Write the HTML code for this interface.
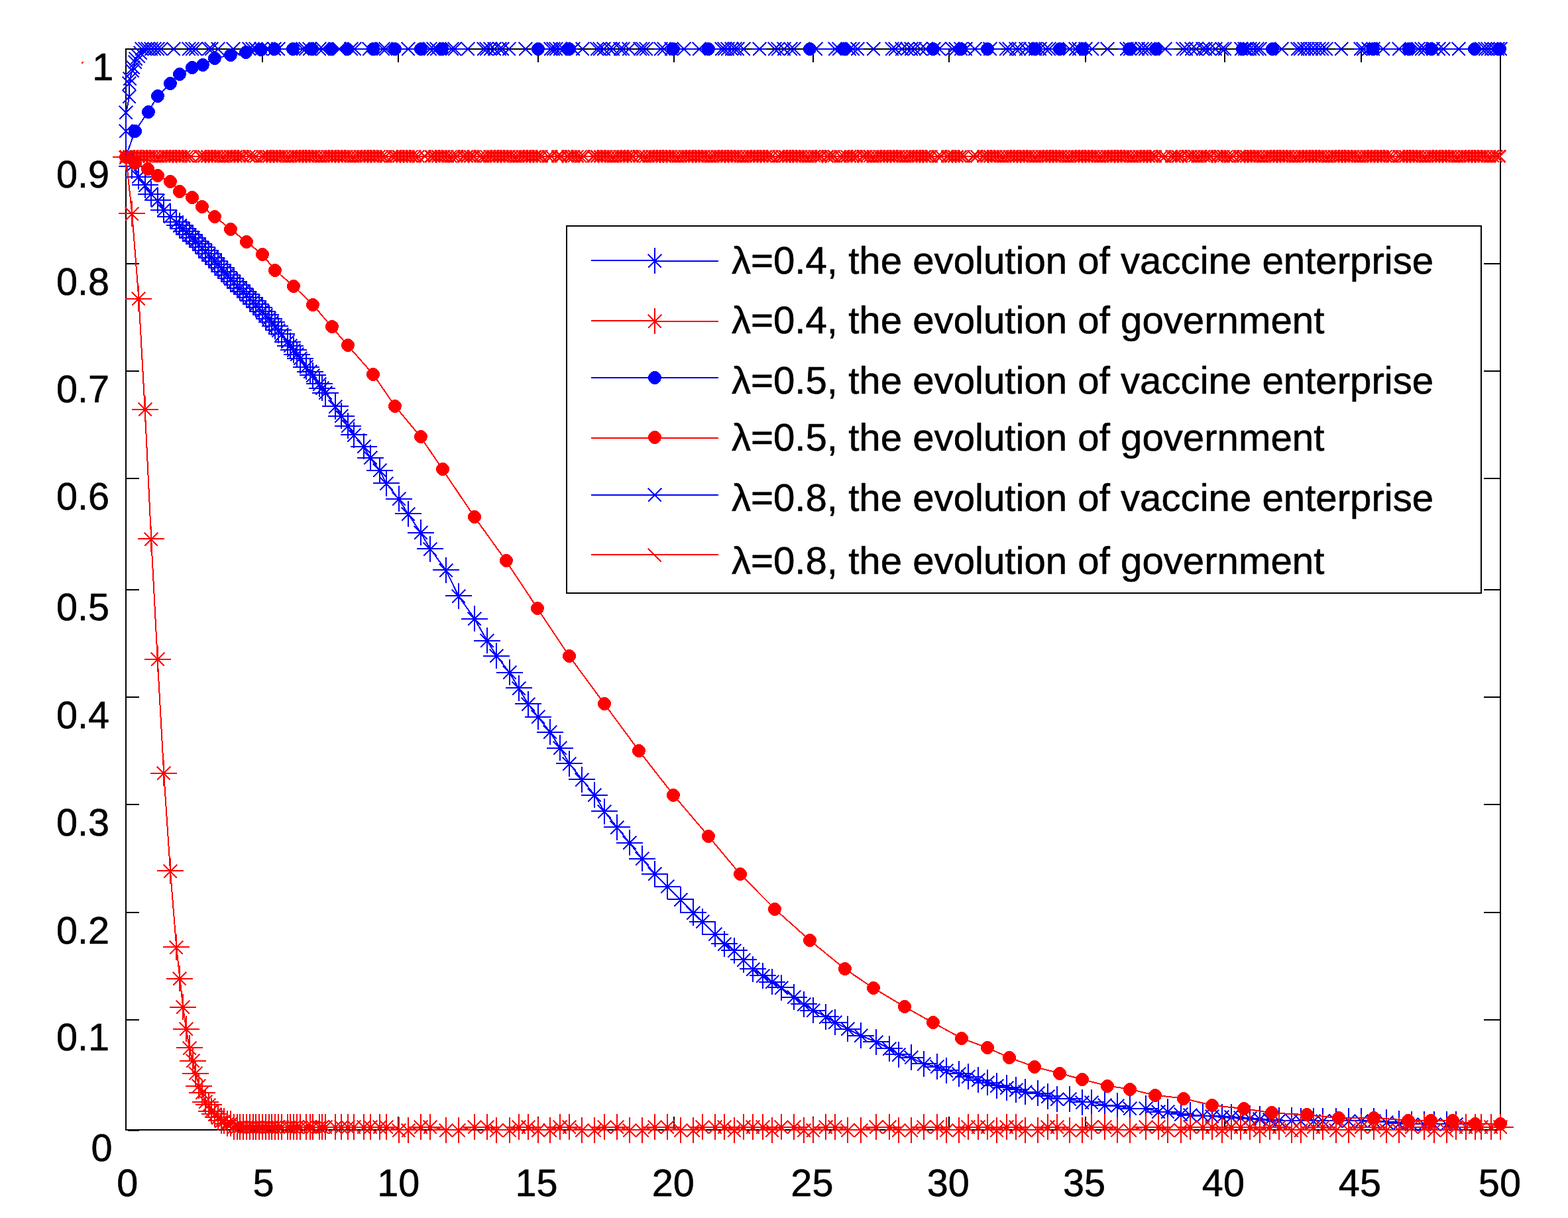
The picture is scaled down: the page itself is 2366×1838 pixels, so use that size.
<!DOCTYPE html>
<html lang="en"><head><meta charset="utf-8"><title>Evolution of vaccine enterprise and government</title>
<style>html,body{margin:0;padding:0;background:#fff}svg{display:block}text{font-family:"Liberation Sans",sans-serif;fill:#000;stroke:#000;stroke-width:.6px;stroke-linejoin:round}.t{font-size:57.6px}.l{font-size:58.2px}.b{stroke:#00f;fill:none}.r{stroke:#f00;fill:none}.k{stroke:#000;fill:none}</style></head><body>
<svg shape-rendering="crispEdges" width="2366" height="1838" viewBox="0 0 2366 1838">
<rect width="2366" height="1838" fill="#fff"/>
<path class="k" stroke-width="2" d="M190 74H2264V1705H190ZM396 74v20 M396 1705v-20M601 74v20 M601 1705v-20M812 74v20 M812 1705v-20M1017 74v20 M1017 1705v-20M1227 74v20 M1227 1705v-20M1432 74v20 M1432 1705v-20M1638 74v20 M1638 1705v-20M1848 74v20 M1848 1705v-20M2054 74v20 M2054 1705v-20M190 236h20 M2264 236h-25M190 398h20 M2264 398h-25M190 560h20 M2264 560h-25M190 722h20 M2264 722h-25M190 890h20 M2264 890h-25M190 1052h20 M2264 1052h-25M190 1214h20 M2264 1214h-25M190 1377h20 M2264 1377h-25M190 1539h20 M2264 1539h-25M193 1706h17"/>
<g class="t" text-anchor="middle">
<text x="192.2" y="1805">0</text>
<text x="397.4" y="1805">5</text>
<text x="601.3" y="1805">10</text>
<text x="809.6" y="1805">15</text>
<text x="1015.7" y="1805">20</text>
<text x="1225.4" y="1805">25</text>
<text x="1430.8" y="1805">30</text>
<text x="1636" y="1805">35</text>
<text x="1845.9" y="1805">40</text>
<text x="2051.9" y="1805">45</text>
<text x="2262.9" y="1805">50</text>
</g>
<g class="t" text-anchor="end">
<text x="171.3" y="120.5">1</text>
<text x="165" y="282.8">0.9</text>
<text x="165" y="444.7">0.8</text>
<text x="165" y="606.9">0.7</text>
<text x="165" y="768.5">0.6</text>
<text x="165" y="936">0.5</text>
<text x="165" y="1098.6">0.4</text>
<text x="165" y="1260.8">0.3</text>
<text x="165" y="1423.8">0.2</text>
<text x="165" y="1585.1">0.1</text>
<text x="169.5" y="1751.5">0</text>
</g>
<path d="M123.6 95.3l1.6-1.2" stroke="#f00" stroke-width="2.2" stroke-linecap="round"/>
<g stroke-width="2">
<path class="b" stroke-width="2" d="M190 237 L199.2 250.6 L209.4 266.7 L218.7 279.3 L228.2 292.8 L237.7 302.3 L247.2 316.9 L257 326.7 L266.2 335.2 L271.4 340.2 L276.2 344.8 L281 349.4 L285.8 354.1 L290.6 358.8 L295.3 363.6 L300.1 368.5 L304.9 373.4 L309.7 378.4 L314.5 383.5 L319.3 388.6 L324.1 393.7 L328.9 398.9 L333.7 404.2 L338.5 409.5 L343.2 414.9 L348 420.1 L352.8 425.3 L357.6 430.2 L362.4 435 L367.2 439.7 L372 444.4 L376.8 449.3 L381.6 454.3 L386.4 459.3 L391.1 464.4 L395.9 469.6 L400.7 475.1 L405.5 480.7 L410.3 486.4 L415.1 492.2 L419.9 498.2 L424.7 504.3 L433.5 515.6 L438.4 522 L443.2 528.3 L448 534.6 L452.8 540.9 L462.4 553.6 L467.9 560.9 L472 566.4 L481.6 579.4 L486.4 586 L491.2 592.6 L505.7 613.3 L515.3 627.7 L524.9 642.7 L533.8 656.1 L548.9 673.9 L558.5 690.8 L573 709.9 L582.6 729.1 L601.5 752.9 L615.6 775.3 L634.8 803.9 L649.2 828.3 L672.9 860.3 L691.9 899.5 L716 933.6 L734.8 966.5 L749.2 989.7 L768.5 1014.5 L782.5 1038.2 L796.9 1062.3 L811.7 1081.8 L830 1104.6 L845 1128.8 L859.2 1152.3 L878.1 1176.4 L897.3 1199.8 L911.7 1224.2 L931 1248.3 L949.6 1271.7 L968.8 1295.8 L988.1 1318.8 L1006.9 1337.6 L1026.7 1357.4 L1046 1377.2 L1059.8 1390.9 L1078.7 1409.8 L1092.9 1424.1 L1107.9 1434.4 L1121.7 1448.4 L1135.8 1462.4 L1150.8 1472 L1164.6 1481.6 L1179 1490.4 L1197.9 1505 L1212.7 1515 L1227.1 1524.7 L1245.8 1534 L1259.8 1542.9 L1279.4 1552.7 L1298.8 1562.9 L1322.3 1572.2 L1341.9 1582.4 L1356 1591.2 L1374.8 1595.9 L1393.8 1605.2 L1413.7 1610 L1427.7 1615.1 L1446.7 1620.2 L1460.8 1624.9 L1475.6 1629.6 L1489.6 1634 L1504 1638 L1518.5 1641.1 L1532.5 1644 L1546.7 1647.7 L1565.6 1649.6 L1580.6 1654.4 L1594.8 1658.3 L1613.7 1658.3 L1632.9 1663 L1646.9 1663 L1666.5 1667.9 L1685.8 1668.8 L1705 1672.7 L1728.5 1672.7 L1747.7 1677.5 L1761.7 1677.5 L1781.5 1681.4 L1795.6 1682.6 L1814.6 1683.8 L1829 1684.5 L1843.8 1685.2 L1857.9 1685.9 L1872.3 1686.8 L1886.3 1687.8 L1900.8 1688.9 L1915.6 1689.8 L1929.6 1690.6 L1948.8 1691 L1962.7 1691 L1981.5 1691 L1996.3 1691 L2015.6 1691 L2034.8 1691 L2054 1691 L2072.7 1691.8 L2091.7 1693.5 L2110.8 1695.2 L2130 1696 L2149.4 1696 L2163.7 1696 L2182.8 1696 L2197 1696"/>
<path class="b" d="M179 251h40 M199 231v39M189 267h40 M209 247v39M199 279h40 M219 260v39M208 293h40 M228 273v39M218 302h40 M238 283v39M227 317h40 M247 297v39M237 327h40 M257 307v39M246 335h40 M266 316v39M251 340h40 M271 321v39M256 345h40 M276 325v39M261 349h40 M281 330v39M266 354h40 M286 335v39M271 359h40 M291 339v39M275 364h40 M295 344v39M280 368h40 M300 349v39M285 373h40 M305 354v39M290 378h40 M310 359v39M295 383h40 M315 364v39M299 389h40 M319 369v39M304 394h40 M324 374v39M309 399h40 M329 379v39M314 404h40 M334 385v39M318 410h40 M338 390v39M323 415h40 M343 395v39M328 420h40 M348 401v39M333 425h40 M353 406v39M338 430h40 M358 411v39M342 435h40 M362 415v39M347 440h40 M367 420v39M352 444h40 M372 425v39M357 449h40 M377 430v39M362 454h40 M382 435v39M366 459h40 M386 440v39M371 464h40 M391 445v39M376 470h40 M396 450v39M381 475h40 M401 456v39M386 481h40 M406 461v39M390 486h40 M410 467v39M395 492h40 M415 473v39M400 498h40 M420 479v39M405 504h40 M425 485v39M414 516h40 M434 496v39M418 522h40 M438 502v39M423 528h40 M443 509v39M428 535h40 M448 515v39M433 541h40 M453 521v39M442 554h40 M462 534v39M448 561h40 M468 541v39M452 566h40 M472 547v39M462 579h40 M482 560v39M466 586h40 M486 566v39M471 593h40 M491 573v39M486 613h40 M506 594v39M495 628h40 M515 608v39M505 643h40 M525 623v39M514 656h40 M534 637v39M529 674h40 M549 654v39M539 691h40 M559 671v39M553 710h40 M573 690v39M563 729h40 M583 710v39M582 753h40 M602 733v39M596 775h40 M616 756v39M615 804h40 M635 784v39M629 828h40 M649 809v39M653 860h40 M673 841v39M672 899h40 M692 880v39M696 934h40 M716 914v39M715 967h40 M735 947v39M729 990h40 M749 970v39M749 1015h40 M769 995v39M763 1038h40 M783 1019v39M777 1062h40 M797 1043v39M792 1082h40 M812 1062v39M810 1105h40 M830 1085v39M825 1129h40 M845 1109v39M839 1152h40 M859 1133v39M858 1176h40 M878 1157v39M877 1200h40 M897 1180v39M892 1224h40 M912 1205v39M911 1248h40 M931 1229v39M930 1272h40 M950 1252v39M949 1296h40 M969 1276v39M968 1319h40 M988 1299v39M987 1338h40 M1007 1318v39M1007 1357h40 M1027 1338v39M1026 1377h40 M1046 1358v39M1040 1391h40 M1060 1371v39M1059 1410h40 M1079 1390v39M1073 1424h40 M1093 1405v39M1088 1434h40 M1108 1415v39M1102 1448h40 M1122 1429v39M1116 1462h40 M1136 1443v39M1131 1472h40 M1151 1453v39M1145 1482h40 M1165 1462v39M1159 1490h40 M1179 1471v39M1178 1505h40 M1198 1485v39M1193 1515h40 M1213 1496v39M1207 1525h40 M1227 1505v39M1226 1534h40 M1246 1515v39M1240 1543h40 M1260 1523v39M1259 1553h40 M1279 1533v39M1279 1563h40 M1299 1543v39M1302 1572h40 M1322 1553v39M1322 1582h40 M1342 1563v39M1336 1591h40 M1356 1572v39M1355 1596h40 M1375 1576v39M1374 1605h40 M1394 1586v39M1394 1610h40 M1414 1590v39M1408 1615h40 M1428 1596v39M1427 1620h40 M1447 1601v39M1441 1625h40 M1461 1605v39M1456 1630h40 M1476 1610v39M1470 1634h40 M1490 1614v39M1484 1638h40 M1504 1619v39M1499 1641h40 M1519 1622v39M1513 1644h40 M1533 1625v39M1527 1648h40 M1547 1628v39M1546 1650h40 M1566 1630v39M1561 1654h40 M1581 1635v39M1575 1658h40 M1595 1639v39M1594 1658h40 M1614 1639v39M1613 1663h40 M1633 1644v39M1627 1663h40 M1647 1644v39M1647 1668h40 M1667 1648v39M1666 1669h40 M1686 1649v39M1685 1673h40 M1705 1653v39M1709 1673h40 M1729 1653v39M1728 1678h40 M1748 1658v39M1742 1678h40 M1762 1658v39M1762 1681h40 M1782 1662v39M1776 1683h40 M1796 1663v39M1795 1684h40 M1815 1664v39M1809 1684h40 M1829 1665v39M1824 1685h40 M1844 1666v39M1838 1686h40 M1858 1666v39M1852 1687h40 M1872 1667v39M1866 1688h40 M1886 1668v39M1881 1689h40 M1901 1669v39M1896 1690h40 M1916 1670v39M1910 1691h40 M1930 1671v39M1929 1691h40 M1949 1671v39M1943 1691h40 M1963 1672v39M1962 1691h40 M1982 1672v39M1976 1691h40 M1996 1672v39M1996 1691h40 M2016 1672v39M2015 1691h40 M2035 1672v39M2034 1691h40 M2054 1672v39M2053 1692h40 M2073 1672v39M2072 1693h40 M2092 1674v39M2091 1695h40 M2111 1676v39M2110 1696h40 M2130 1677v39M2129 1696h40 M2149 1677v39M2144 1696h40 M2164 1677v39M2163 1696h40 M2183 1677v39M2177 1696h40 M2197 1677v39"/>
<path class="b" stroke-width="2" d="M189 241l20 20 M189 261l20 -20M199 257l20 20 M199 277l20 -20M209 270l20 20 M209 290l20 -20M218 283l20 20 M218 303l20 -20M228 293l20 20 M228 313l20 -20M237 307l20 20 M237 327l20 -20M247 317l20 20 M247 337l20 -20M256 326l20 20 M256 346l20 -20M261 331l20 20 M261 351l20 -20M266 335l20 20 M266 355l20 -20M271 340l20 20 M271 360l20 -20M276 345l20 20 M276 365l20 -20M281 349l20 20 M281 369l20 -20M285 354l20 20 M285 374l20 -20M290 359l20 20 M290 379l20 -20M295 364l20 20 M295 384l20 -20M300 369l20 20 M300 389l20 -20M305 374l20 20 M305 394l20 -20M309 379l20 20 M309 399l20 -20M314 384l20 20 M314 404l20 -20M319 389l20 20 M319 409l20 -20M324 395l20 20 M324 415l20 -20M328 400l20 20 M328 420l20 -20M333 405l20 20 M333 425l20 -20M338 411l20 20 M338 431l20 -20M343 416l20 20 M343 436l20 -20M348 421l20 20 M348 441l20 -20M352 425l20 20 M352 445l20 -20M357 430l20 20 M357 450l20 -20M362 435l20 20 M362 455l20 -20M367 440l20 20 M367 460l20 -20M372 445l20 20 M372 465l20 -20M376 450l20 20 M376 470l20 -20M381 455l20 20 M381 475l20 -20M386 460l20 20 M386 480l20 -20M391 466l20 20 M391 486l20 -20M396 471l20 20 M396 491l20 -20M400 477l20 20 M400 497l20 -20M405 483l20 20 M405 503l20 -20M410 489l20 20 M410 509l20 -20M415 495l20 20 M415 515l20 -20M424 506l20 20 M424 526l20 -20M428 512l20 20 M428 532l20 -20M433 519l20 20 M433 539l20 -20M438 525l20 20 M438 545l20 -20M443 531l20 20 M443 551l20 -20M452 544l20 20 M452 564l20 -20M458 551l20 20 M458 571l20 -20M462 557l20 20 M462 577l20 -20M472 570l20 20 M472 590l20 -20M476 576l20 20 M476 596l20 -20M481 583l20 20 M481 603l20 -20M496 604l20 20 M496 624l20 -20M505 618l20 20 M505 638l20 -20M515 633l20 20 M515 653l20 -20M524 647l20 20 M524 667l20 -20M539 664l20 20 M539 684l20 -20M549 681l20 20 M549 701l20 -20M563 700l20 20 M563 720l20 -20M573 720l20 20 M573 740l20 -20M592 743l20 20 M592 763l20 -20M606 766l20 20 M606 786l20 -20M625 794l20 20 M625 814l20 -20M639 819l20 20 M639 839l20 -20M663 851l20 20 M663 871l20 -20M682 890l20 20 M682 910l20 -20M706 924l20 20 M706 944l20 -20M725 957l20 20 M725 977l20 -20M739 980l20 20 M739 1000l20 -20M759 1005l20 20 M759 1025l20 -20M773 1029l20 20 M773 1049l20 -20M787 1053l20 20 M787 1073l20 -20M802 1072l20 20 M802 1092l20 -20M820 1095l20 20 M820 1115l20 -20M835 1119l20 20 M835 1139l20 -20M849 1143l20 20 M849 1163l20 -20M868 1167l20 20 M868 1187l20 -20M887 1190l20 20 M887 1210l20 -20M902 1215l20 20 M902 1235l20 -20M921 1239l20 20 M921 1259l20 -20M940 1262l20 20 M940 1282l20 -20M959 1286l20 20 M959 1306l20 -20M978 1309l20 20 M978 1329l20 -20M997 1328l20 20 M997 1348l20 -20M1017 1348l20 20 M1017 1368l20 -20M1036 1368l20 20 M1036 1388l20 -20M1050 1381l20 20 M1050 1401l20 -20M1069 1400l20 20 M1069 1420l20 -20M1083 1415l20 20 M1083 1435l20 -20M1098 1425l20 20 M1098 1445l20 -20M1112 1439l20 20 M1112 1459l20 -20M1126 1453l20 20 M1126 1473l20 -20M1141 1463l20 20 M1141 1483l20 -20M1155 1472l20 20 M1155 1492l20 -20M1169 1481l20 20 M1169 1501l20 -20M1188 1495l20 20 M1188 1515l20 -20M1203 1506l20 20 M1203 1526l20 -20M1217 1515l20 20 M1217 1535l20 -20M1236 1525l20 20 M1236 1545l20 -20M1250 1533l20 20 M1250 1553l20 -20M1269 1543l20 20 M1269 1563l20 -20M1289 1553l20 20 M1289 1573l20 -20M1312 1563l20 20 M1312 1583l20 -20M1332 1573l20 20 M1332 1593l20 -20M1346 1582l20 20 M1346 1602l20 -20M1365 1586l20 20 M1365 1606l20 -20M1384 1596l20 20 M1384 1616l20 -20M1404 1600l20 20 M1404 1620l20 -20M1418 1606l20 20 M1418 1626l20 -20M1437 1611l20 20 M1437 1631l20 -20M1451 1615l20 20 M1451 1635l20 -20M1466 1620l20 20 M1466 1640l20 -20M1480 1624l20 20 M1480 1644l20 -20M1494 1629l20 20 M1494 1649l20 -20M1509 1632l20 20 M1509 1652l20 -20M1523 1635l20 20 M1523 1655l20 -20M1537 1638l20 20 M1537 1658l20 -20M1556 1640l20 20 M1556 1660l20 -20M1571 1645l20 20 M1571 1665l20 -20M1585 1649l20 20 M1585 1669l20 -20M1604 1649l20 20 M1604 1669l20 -20M1623 1654l20 20 M1623 1674l20 -20M1637 1654l20 20 M1637 1674l20 -20M1657 1658l20 20 M1657 1678l20 -20M1676 1659l20 20 M1676 1679l20 -20M1695 1663l20 20 M1695 1683l20 -20M1719 1663l20 20 M1719 1683l20 -20M1738 1668l20 20 M1738 1688l20 -20M1752 1668l20 20 M1752 1688l20 -20M1772 1672l20 20 M1772 1692l20 -20M1786 1673l20 20 M1786 1693l20 -20M1805 1674l20 20 M1805 1694l20 -20M1819 1675l20 20 M1819 1695l20 -20M1834 1676l20 20 M1834 1696l20 -20M1848 1676l20 20 M1848 1696l20 -20M1862 1677l20 20 M1862 1697l20 -20M1876 1678l20 20 M1876 1698l20 -20M1891 1679l20 20 M1891 1699l20 -20M1906 1680l20 20 M1906 1700l20 -20M1920 1681l20 20 M1920 1701l20 -20M1939 1681l20 20 M1939 1701l20 -20M1953 1682l20 20 M1953 1702l20 -20M1972 1682l20 20 M1972 1702l20 -20M1986 1682l20 20 M1986 1702l20 -20M2006 1682l20 20 M2006 1702l20 -20M2025 1682l20 20 M2025 1702l20 -20M2044 1682l20 20 M2044 1702l20 -20M2063 1682l20 20 M2063 1702l20 -20M2082 1684l20 20 M2082 1704l20 -20M2101 1686l20 20 M2101 1706l20 -20M2120 1687l20 20 M2120 1707l20 -20M2139 1687l20 20 M2139 1707l20 -20M2154 1687l20 20 M2154 1707l20 -20M2173 1687l20 20 M2173 1707l20 -20M2187 1687l20 20 M2187 1707l20 -20"/>
<path class="r" stroke-width="2" d="M190 237 L199.2 322.3 L209.4 450.5 L218.7 617.6 L228.2 813.4 L237.7 994.5 L247.2 1166.7 L257 1314.4 L266.2 1429 L271.4 1476.6 L276.2 1519.7 L281 1552.8 L285.8 1581.4 L290.6 1600.9 L295.3 1619.7 L300.1 1638.6 L304.9 1648.8 L309.7 1662.5 L314.5 1667.1 L319.3 1676.7 L324.1 1681.5 L328.9 1686.3 L333.7 1691.1 L338.5 1691.1 L343.2 1695.9 L348 1695.9 L352.8 1700.7 L357.6 1700.7 L362.4 1700.7 L367.2 1700.7 L372 1700.7 L376.8 1700.7 L381.6 1700.7 L386.4 1700.7 L391.1 1700.7 L395.9 1700.7 L400.7 1700.7 L405.5 1700.7 L410.3 1700.7 L415.1 1700.7 L419.9 1700.7 L424.7 1700.7 L433.5 1700.7 L438.4 1700.7 L443.2 1700.7 L448 1700.7 L452.8 1700.7 L462.4 1700.7 L467.9 1700.7 L472 1700.7 L481.6 1700.7 L486.4 1700.7 L491.2 1700.7 L505.7 1700.7 L515.3 1700.7 L524.9 1700.7 L533.8 1700.7 L548.9 1700.7 L558.5 1700.7 L573 1700.7 L582.6 1700.7 L601.5 1705.2 L615.6 1705.2 L634.8 1700.6 L649.2 1700.6 L672.9 1705.2 L691.9 1705.2 L716 1700.6 L734.8 1700.6 L749.2 1705.2 L768.5 1705.2 L782.5 1700.6 L796.9 1700.6 L811.7 1705.2 L830 1705.2 L845 1700.6 L859.2 1700.6 L878.1 1705.2 L897.3 1705.2 L911.7 1700.6 L931 1700.6 L949.6 1705.2 L968.8 1705.2 L988.1 1700.6 L1006.9 1700.6 L1026.7 1705.2 L1046 1705.2 L1059.8 1700.6 L1078.7 1700.6 L1092.9 1700.6 L1107.9 1705.2 L1121.7 1700.6 L1135.8 1700.6 L1150.8 1700.6 L1164.6 1705.2 L1179 1700.6 L1197.9 1700.6 L1212.7 1705.2 L1227.1 1705.2 L1245.8 1700.6 L1259.8 1700.6 L1279.4 1705.2 L1298.8 1705.2 L1322.3 1700.6 L1341.9 1700.6 L1356 1705.2 L1374.8 1705.2 L1393.8 1700.6 L1413.7 1700.6 L1427.7 1705.2 L1446.7 1705.2 L1460.8 1700.6 L1475.6 1700.6 L1489.6 1700.6 L1504 1705.2 L1518.5 1700.6 L1532.5 1700.6 L1546.7 1705.2 L1565.6 1705.2 L1580.6 1700.6 L1594.8 1700.6 L1613.7 1705.2 L1632.9 1705.2 L1646.9 1700.6 L1666.5 1700.6 L1685.8 1705.2 L1705 1705.2 L1728.5 1700.6 L1747.7 1700.6 L1761.7 1705.2 L1781.5 1705.2 L1795.6 1700.6 L1814.6 1700.6 L1829 1700.6 L1843.8 1705.2 L1857.9 1700.6 L1872.3 1700.6 L1886.3 1700.6 L1900.8 1705.2 L1915.6 1700.6 L1929.6 1700.6 L1948.8 1705.2 L1962.7 1705.2 L1981.5 1700.6 L1996.3 1700.6 L2015.6 1705.2 L2034.8 1705.2 L2054 1700.6 L2072.7 1700.6 L2091.7 1705.2 L2110.8 1705.2 L2130 1700.6 L2149.4 1700.6 L2163.7 1705.2 L2182.8 1705.2 L2197 1700.6 L2211.5 1700.6 L2225.5 1700.6 L2234.9 1700.6 L2249.6 1700.6 L2264 1700.6"/>
<path class="r" d="M170 237h40 M190 218v39M179 322h40 M199 303v39M189 451h40 M209 431v39M199 618h40 M219 598v39M208 813h40 M228 794v39M218 995h40 M238 975v39M227 1167h40 M247 1147v39M237 1314h40 M257 1295v39M246 1429h40 M266 1410v39M251 1477h40 M271 1457v39M256 1520h40 M276 1500v39M261 1553h40 M281 1533v39M266 1581h40 M286 1562v39M271 1601h40 M291 1581v39M275 1620h40 M295 1600v39M280 1639h40 M300 1619v39M285 1649h40 M305 1629v39M290 1663h40 M310 1643v39M295 1667h40 M315 1648v39M299 1677h40 M319 1657v39M304 1681h40 M324 1662v39M309 1686h40 M329 1667v39M314 1691h40 M334 1672v39M318 1691h40 M338 1672v39M323 1696h40 M343 1676v39M328 1696h40 M348 1676v39M333 1701h40 M353 1681v39M338 1701h40 M358 1681v39M342 1701h40 M362 1681v39M347 1701h40 M367 1681v39M352 1701h40 M372 1681v39M357 1701h40 M377 1681v39M362 1701h40 M382 1681v39M366 1701h40 M386 1681v39M371 1701h40 M391 1681v39M376 1701h40 M396 1681v39M381 1701h40 M401 1681v39M386 1701h40 M406 1681v39M390 1701h40 M410 1681v39M395 1701h40 M415 1681v39M400 1701h40 M420 1681v39M405 1701h40 M425 1681v39M414 1701h40 M434 1681v39M418 1701h40 M438 1681v39M423 1701h40 M443 1681v39M428 1701h40 M448 1681v39M433 1701h40 M453 1681v39M442 1701h40 M462 1681v39M448 1701h40 M468 1681v39M452 1701h40 M472 1681v39M462 1701h40 M482 1681v39M466 1701h40 M486 1681v39M471 1701h40 M491 1681v39M486 1701h40 M506 1681v39M495 1701h40 M515 1681v39M505 1701h40 M525 1681v39M514 1701h40 M534 1681v39M529 1701h40 M549 1681v39M539 1701h40 M559 1681v39M553 1701h40 M573 1681v39M563 1701h40 M583 1681v39M582 1705h40 M602 1686v39M596 1705h40 M616 1686v39M615 1701h40 M635 1681v39M629 1701h40 M649 1681v39M653 1705h40 M673 1686v39M672 1705h40 M692 1686v39M696 1701h40 M716 1681v39M715 1701h40 M735 1681v39M729 1705h40 M749 1686v39M749 1705h40 M769 1686v39M763 1701h40 M783 1681v39M777 1701h40 M797 1681v39M792 1705h40 M812 1686v39M810 1705h40 M830 1686v39M825 1701h40 M845 1681v39M839 1701h40 M859 1681v39M858 1705h40 M878 1686v39M877 1705h40 M897 1686v39M892 1701h40 M912 1681v39M911 1701h40 M931 1681v39M930 1705h40 M950 1686v39M949 1705h40 M969 1686v39M968 1701h40 M988 1681v39M987 1701h40 M1007 1681v39M1007 1705h40 M1027 1686v39M1026 1705h40 M1046 1686v39M1040 1701h40 M1060 1681v39M1059 1701h40 M1079 1681v39M1073 1701h40 M1093 1681v39M1088 1705h40 M1108 1686v39M1102 1701h40 M1122 1681v39M1116 1701h40 M1136 1681v39M1131 1701h40 M1151 1681v39M1145 1705h40 M1165 1686v39M1159 1701h40 M1179 1681v39M1178 1701h40 M1198 1681v39M1193 1705h40 M1213 1686v39M1207 1705h40 M1227 1686v39M1226 1701h40 M1246 1681v39M1240 1701h40 M1260 1681v39M1259 1705h40 M1279 1686v39M1279 1705h40 M1299 1686v39M1302 1701h40 M1322 1681v39M1322 1701h40 M1342 1681v39M1336 1705h40 M1356 1686v39M1355 1705h40 M1375 1686v39M1374 1701h40 M1394 1681v39M1394 1701h40 M1414 1681v39M1408 1705h40 M1428 1686v39M1427 1705h40 M1447 1686v39M1441 1701h40 M1461 1681v39M1456 1701h40 M1476 1681v39M1470 1701h40 M1490 1681v39M1484 1705h40 M1504 1686v39M1499 1701h40 M1519 1681v39M1513 1701h40 M1533 1681v39M1527 1705h40 M1547 1686v39M1546 1705h40 M1566 1686v39M1561 1701h40 M1581 1681v39M1575 1701h40 M1595 1681v39M1594 1705h40 M1614 1686v39M1613 1705h40 M1633 1686v39M1627 1701h40 M1647 1681v39M1647 1701h40 M1667 1681v39M1666 1705h40 M1686 1686v39M1685 1705h40 M1705 1686v39M1709 1701h40 M1729 1681v39M1728 1701h40 M1748 1681v39M1742 1705h40 M1762 1686v39M1762 1705h40 M1782 1686v39M1776 1701h40 M1796 1681v39M1795 1701h40 M1815 1681v39M1809 1701h40 M1829 1681v39M1824 1705h40 M1844 1686v39M1838 1701h40 M1858 1681v39M1852 1701h40 M1872 1681v39M1866 1701h40 M1886 1681v39M1881 1705h40 M1901 1686v39M1896 1701h40 M1916 1681v39M1910 1701h40 M1930 1681v39M1929 1705h40 M1949 1686v39M1943 1705h40 M1963 1686v39M1962 1701h40 M1982 1681v39M1976 1701h40 M1996 1681v39M1996 1705h40 M2016 1686v39M2015 1705h40 M2035 1686v39M2034 1701h40 M2054 1681v39M2053 1701h40 M2073 1681v39M2072 1705h40 M2092 1686v39M2091 1705h40 M2111 1686v39M2110 1701h40 M2130 1681v39M2129 1701h40 M2149 1681v39M2144 1705h40 M2164 1686v39M2163 1705h40 M2183 1686v39M2177 1701h40 M2197 1681v39M2192 1701h40 M2212 1681v39M2206 1701h40 M2226 1681v39M2215 1701h40 M2235 1681v39M2230 1701h40 M2250 1681v39M2244 1701h40 M2264 1681v39"/>
<path class="r" stroke-width="2" d="M180 228l20 20 M180 248l20 -20M189 313l20 20 M189 333l20 -20M199 441l20 20 M199 461l20 -20M209 608l20 20 M209 628l20 -20M218 804l20 20 M218 824l20 -20M228 985l20 20 M228 1005l20 -20M237 1157l20 20 M237 1177l20 -20M247 1305l20 20 M247 1325l20 -20M256 1420l20 20 M256 1440l20 -20M261 1467l20 20 M261 1487l20 -20M266 1510l20 20 M266 1530l20 -20M271 1543l20 20 M271 1563l20 -20M276 1572l20 20 M276 1592l20 -20M281 1591l20 20 M281 1611l20 -20M285 1610l20 20 M285 1630l20 -20M290 1629l20 20 M290 1649l20 -20M295 1639l20 20 M295 1659l20 -20M300 1653l20 20 M300 1673l20 -20M305 1658l20 20 M305 1678l20 -20M309 1667l20 20 M309 1687l20 -20M314 1672l20 20 M314 1692l20 -20M319 1677l20 20 M319 1697l20 -20M324 1682l20 20 M324 1702l20 -20M328 1682l20 20 M328 1702l20 -20M333 1686l20 20 M333 1706l20 -20M338 1686l20 20 M338 1706l20 -20M343 1691l20 20 M343 1711l20 -20M348 1691l20 20 M348 1711l20 -20M352 1691l20 20 M352 1711l20 -20M357 1691l20 20 M357 1711l20 -20M362 1691l20 20 M362 1711l20 -20M367 1691l20 20 M367 1711l20 -20M372 1691l20 20 M372 1711l20 -20M376 1691l20 20 M376 1711l20 -20M381 1691l20 20 M381 1711l20 -20M386 1691l20 20 M386 1711l20 -20M391 1691l20 20 M391 1711l20 -20M396 1691l20 20 M396 1711l20 -20M400 1691l20 20 M400 1711l20 -20M405 1691l20 20 M405 1711l20 -20M410 1691l20 20 M410 1711l20 -20M415 1691l20 20 M415 1711l20 -20M424 1691l20 20 M424 1711l20 -20M428 1691l20 20 M428 1711l20 -20M433 1691l20 20 M433 1711l20 -20M438 1691l20 20 M438 1711l20 -20M443 1691l20 20 M443 1711l20 -20M452 1691l20 20 M452 1711l20 -20M458 1691l20 20 M458 1711l20 -20M462 1691l20 20 M462 1711l20 -20M472 1691l20 20 M472 1711l20 -20M476 1691l20 20 M476 1711l20 -20M481 1691l20 20 M481 1711l20 -20M496 1691l20 20 M496 1711l20 -20M505 1691l20 20 M505 1711l20 -20M515 1691l20 20 M515 1711l20 -20M524 1691l20 20 M524 1711l20 -20M539 1691l20 20 M539 1711l20 -20M549 1691l20 20 M549 1711l20 -20M563 1691l20 20 M563 1711l20 -20M573 1691l20 20 M573 1711l20 -20M592 1696l20 20 M592 1716l20 -20M606 1696l20 20 M606 1716l20 -20M625 1691l20 20 M625 1711l20 -20M639 1691l20 20 M639 1711l20 -20M663 1696l20 20 M663 1716l20 -20M682 1696l20 20 M682 1716l20 -20M706 1691l20 20 M706 1711l20 -20M725 1691l20 20 M725 1711l20 -20M739 1696l20 20 M739 1716l20 -20M759 1696l20 20 M759 1716l20 -20M773 1691l20 20 M773 1711l20 -20M787 1691l20 20 M787 1711l20 -20M802 1696l20 20 M802 1716l20 -20M820 1696l20 20 M820 1716l20 -20M835 1691l20 20 M835 1711l20 -20M849 1691l20 20 M849 1711l20 -20M868 1696l20 20 M868 1716l20 -20M887 1696l20 20 M887 1716l20 -20M902 1691l20 20 M902 1711l20 -20M921 1691l20 20 M921 1711l20 -20M940 1696l20 20 M940 1716l20 -20M959 1696l20 20 M959 1716l20 -20M978 1691l20 20 M978 1711l20 -20M997 1691l20 20 M997 1711l20 -20M1017 1696l20 20 M1017 1716l20 -20M1036 1696l20 20 M1036 1716l20 -20M1050 1691l20 20 M1050 1711l20 -20M1069 1691l20 20 M1069 1711l20 -20M1083 1691l20 20 M1083 1711l20 -20M1098 1696l20 20 M1098 1716l20 -20M1112 1691l20 20 M1112 1711l20 -20M1126 1691l20 20 M1126 1711l20 -20M1141 1691l20 20 M1141 1711l20 -20M1155 1696l20 20 M1155 1716l20 -20M1169 1691l20 20 M1169 1711l20 -20M1188 1691l20 20 M1188 1711l20 -20M1203 1696l20 20 M1203 1716l20 -20M1217 1696l20 20 M1217 1716l20 -20M1236 1691l20 20 M1236 1711l20 -20M1250 1691l20 20 M1250 1711l20 -20M1269 1696l20 20 M1269 1716l20 -20M1289 1696l20 20 M1289 1716l20 -20M1312 1691l20 20 M1312 1711l20 -20M1332 1691l20 20 M1332 1711l20 -20M1346 1696l20 20 M1346 1716l20 -20M1365 1696l20 20 M1365 1716l20 -20M1384 1691l20 20 M1384 1711l20 -20M1404 1691l20 20 M1404 1711l20 -20M1418 1696l20 20 M1418 1716l20 -20M1437 1696l20 20 M1437 1716l20 -20M1451 1691l20 20 M1451 1711l20 -20M1466 1691l20 20 M1466 1711l20 -20M1480 1691l20 20 M1480 1711l20 -20M1494 1696l20 20 M1494 1716l20 -20M1509 1691l20 20 M1509 1711l20 -20M1523 1691l20 20 M1523 1711l20 -20M1537 1696l20 20 M1537 1716l20 -20M1556 1696l20 20 M1556 1716l20 -20M1571 1691l20 20 M1571 1711l20 -20M1585 1691l20 20 M1585 1711l20 -20M1604 1696l20 20 M1604 1716l20 -20M1623 1696l20 20 M1623 1716l20 -20M1637 1691l20 20 M1637 1711l20 -20M1657 1691l20 20 M1657 1711l20 -20M1676 1696l20 20 M1676 1716l20 -20M1695 1696l20 20 M1695 1716l20 -20M1719 1691l20 20 M1719 1711l20 -20M1738 1691l20 20 M1738 1711l20 -20M1752 1696l20 20 M1752 1716l20 -20M1772 1696l20 20 M1772 1716l20 -20M1786 1691l20 20 M1786 1711l20 -20M1805 1691l20 20 M1805 1711l20 -20M1819 1691l20 20 M1819 1711l20 -20M1834 1696l20 20 M1834 1716l20 -20M1848 1691l20 20 M1848 1711l20 -20M1862 1691l20 20 M1862 1711l20 -20M1876 1691l20 20 M1876 1711l20 -20M1891 1696l20 20 M1891 1716l20 -20M1906 1691l20 20 M1906 1711l20 -20M1920 1691l20 20 M1920 1711l20 -20M1939 1696l20 20 M1939 1716l20 -20M1953 1696l20 20 M1953 1716l20 -20M1972 1691l20 20 M1972 1711l20 -20M1986 1691l20 20 M1986 1711l20 -20M2006 1696l20 20 M2006 1716l20 -20M2025 1696l20 20 M2025 1716l20 -20M2044 1691l20 20 M2044 1711l20 -20M2063 1691l20 20 M2063 1711l20 -20M2082 1696l20 20 M2082 1716l20 -20M2101 1696l20 20 M2101 1716l20 -20M2120 1691l20 20 M2120 1711l20 -20M2139 1691l20 20 M2139 1711l20 -20M2154 1696l20 20 M2154 1716l20 -20M2173 1696l20 20 M2173 1716l20 -20M2187 1691l20 20 M2187 1711l20 -20M2202 1691l20 20 M2202 1711l20 -20M2216 1691l20 20 M2216 1711l20 -20M2225 1691l20 20 M2225 1711l20 -20M2240 1691l20 20 M2240 1711l20 -20M2254 1691l20 20 M2254 1711l20 -20"/>
<path class="b" stroke-width="2" d="M189.8 236.5 L203.8 197.5 L223.6 168.8 L237.9 145 L256.9 125.7 L271 111.8 L289.9 102.3 L305.5 97.7 L323.8 88.2 L347.6 83 L371.4 78.5 L393.7 75.4M375 74H707M801 74H872M987 74H1123M1135 74H1156M1213 74H1303M1342 74H1360M1398 74H1511M1514 74H1653M1687 74H1772M1783 74H1795M1812 74H1830M1867 74H1938M1953 74H2003M2015 74H2025M2043 74H2264"/>
<g fill="#00f"><circle cx="204" cy="198" r="10"/><circle cx="224" cy="169" r="10"/><circle cx="238" cy="145" r="10"/><circle cx="257" cy="126" r="10"/><circle cx="271" cy="112" r="10"/><circle cx="290" cy="102" r="10"/><circle cx="306" cy="98" r="10"/><circle cx="324" cy="88" r="10"/><circle cx="348" cy="83" r="10"/><circle cx="371" cy="79" r="10"/><circle cx="394" cy="75" r="10"/><circle cx="414" cy="74" r="10"/><circle cx="442" cy="74" r="10"/><circle cx="471" cy="74" r="10"/><circle cx="500" cy="74" r="10"/><circle cx="524" cy="74" r="10"/><circle cx="563" cy="74" r="10"/><circle cx="596" cy="74" r="10"/><circle cx="635" cy="74" r="10"/><circle cx="667" cy="74" r="10"/><circle cx="812" cy="74" r="10"/><circle cx="859" cy="74" r="10"/><circle cx="1016" cy="74" r="10"/><circle cx="1069" cy="74" r="10"/><circle cx="1222" cy="74" r="10"/><circle cx="1274" cy="74" r="10"/><circle cx="1408" cy="74" r="10"/><circle cx="1450" cy="74" r="10"/><circle cx="1490" cy="74" r="10"/><circle cx="1562" cy="74" r="10"/><circle cx="1599" cy="74" r="10"/><circle cx="1633" cy="74" r="10"/><circle cx="1704" cy="74" r="10"/><circle cx="1744" cy="74" r="10"/><circle cx="1875" cy="74" r="10"/><circle cx="1920" cy="74" r="10"/><circle cx="2072" cy="74" r="10"/><circle cx="2126" cy="74" r="10"/><circle cx="2160" cy="74" r="10"/><circle cx="2225" cy="74" r="10"/><circle cx="2263" cy="74" r="10"/></g>
<path class="r" stroke-width="2" d="M189.8 236.5 L204 245.6 L223.2 255.1 L237.8 264.6 L257.2 274.3 L271.2 288.5 L290.4 297.6 L305 312.2 L324.1 326.6 L347.6 345.7 L371.5 364.6 L395.6 383.8 L415 407.7 L442.9 431.7 L472 459.6 L500.6 493.4 L524.8 521.4 L563 564.8 L596.2 613 L634.5 659 L667.8 708.4 L715.7 779.8 L763.5 846.3 L811.1 918.2 L858.9 990 L911.5 1061.5 L963.9 1132.7 L1016.4 1199.9 L1068.8 1261.6 L1116.7 1318.9 L1169.3 1371.9 L1222.1 1419.1 L1274.7 1462 L1317.8 1491 L1365 1519.3 L1407.9 1543.3 L1450.7 1566.6 L1489.5 1581.1 L1522.8 1595.8 L1561.1 1609.9 L1599 1619.6 L1633.1 1628.9 L1671 1638.6 L1704.7 1643.6 L1742.7 1652.7 L1786.2 1657.6 L1829 1668 L1876.8 1673 L1919.4 1679.4 L1971.9 1682.3 L2020 1687.1 L2072.5 1686.5 L2125.2 1691 L2158.7 1691 L2191.5 1691.4 L2225.5 1695.6 L2263.6 1695.6"/>
<g fill="#f00"><circle cx="190" cy="237" r="10"/><circle cx="204" cy="246" r="10"/><circle cx="223" cy="255" r="10"/><circle cx="238" cy="265" r="10"/><circle cx="257" cy="274" r="10"/><circle cx="271" cy="289" r="10"/><circle cx="290" cy="298" r="10"/><circle cx="305" cy="312" r="10"/><circle cx="324" cy="327" r="10"/><circle cx="348" cy="346" r="10"/><circle cx="372" cy="365" r="10"/><circle cx="396" cy="384" r="10"/><circle cx="415" cy="408" r="10"/><circle cx="443" cy="432" r="10"/><circle cx="472" cy="460" r="10"/><circle cx="501" cy="493" r="10"/><circle cx="525" cy="521" r="10"/><circle cx="563" cy="565" r="10"/><circle cx="596" cy="613" r="10"/><circle cx="635" cy="659" r="10"/><circle cx="668" cy="708" r="10"/><circle cx="716" cy="780" r="10"/><circle cx="764" cy="846" r="10"/><circle cx="811" cy="918" r="10"/><circle cx="859" cy="990" r="10"/><circle cx="912" cy="1062" r="10"/><circle cx="964" cy="1133" r="10"/><circle cx="1016" cy="1200" r="10"/><circle cx="1069" cy="1262" r="10"/><circle cx="1117" cy="1319" r="10"/><circle cx="1169" cy="1372" r="10"/><circle cx="1222" cy="1419" r="10"/><circle cx="1275" cy="1462" r="10"/><circle cx="1318" cy="1491" r="10"/><circle cx="1365" cy="1519" r="10"/><circle cx="1408" cy="1543" r="10"/><circle cx="1451" cy="1567" r="10"/><circle cx="1490" cy="1581" r="10"/><circle cx="1523" cy="1596" r="10"/><circle cx="1561" cy="1610" r="10"/><circle cx="1599" cy="1620" r="10"/><circle cx="1633" cy="1629" r="10"/><circle cx="1671" cy="1639" r="10"/><circle cx="1705" cy="1644" r="10"/><circle cx="1743" cy="1653" r="10"/><circle cx="1786" cy="1658" r="10"/><circle cx="1829" cy="1668" r="10"/><circle cx="1877" cy="1673" r="10"/><circle cx="1919" cy="1679" r="10"/><circle cx="1972" cy="1682" r="10"/><circle cx="2020" cy="1687" r="10"/><circle cx="2073" cy="1687" r="10"/><circle cx="2125" cy="1691" r="10"/><circle cx="2159" cy="1691" r="10"/><circle cx="2192" cy="1691" r="10"/><circle cx="2226" cy="1696" r="10"/><circle cx="2264" cy="1696" r="10"/></g>
<path class="b" stroke-width="2" d="M190 237 L190.3 197.9 L190.3 169.6 L195.3 145.4 L195.3 125.4 L195.9 118.9 L199.5 106.6 L200.6 101.8 L204.2 93.6 L205.3 88.9 L208.9 84.2 L212.4 79 L213.7 74M212 74H243M285 74H295M315 74H319"/>
<path class="b" stroke-width="2" d="M180 188l20 20 M180 208l20 -20M180 160l20 20 M180 180l20 -20M185 136l20 20 M185 156l20 -20M185 116l20 20 M185 136l20 -20M186 109l20 20 M186 129l20 -20M190 97l20 20 M190 117l20 -20M191 92l20 20 M191 112l20 -20M194 84l20 20 M194 104l20 -20M195 79l20 20 M195 99l20 -20M199 75l20 20 M199 95l20 -20M202 70l20 20 M202 90l20 -20M204 64l20 20 M204 84l20 -20M209 64l20 20 M209 84l20 -20M213 64l20 20 M213 84l20 -20M218 64l20 20 M218 84l20 -20M223 64l20 20 M223 84l20 -20M228 64l20 20 M228 84l20 -20M233 64l20 20 M233 84l20 -20M252 64l20 20 M252 84l20 -20M275 64l20 20 M275 84l20 -20M280 64l20 20 M280 84l20 -20M285 64l20 20 M285 84l20 -20M305 64l20 20 M305 84l20 -20M309 64l20 20 M309 84l20 -20M319 64l20 20 M319 84l20 -20M342 64l20 20 M342 84l20 -20M366 64l20 20 M366 84l20 -20M371 64l20 20 M371 84l20 -20M376 64l20 20 M376 84l20 -20M384 64l20 20 M384 84l20 -20M395 64l20 20 M395 84l20 -20M404 64l20 20 M404 84l20 -20M410 64l20 20 M410 84l20 -20M447 64l20 20 M447 84l20 -20M451 64l20 20 M451 84l20 -20M457 64l20 20 M457 84l20 -20M472 64l20 20 M472 84l20 -20M477 64l20 20 M477 84l20 -20M502 64l20 20 M502 84l20 -20M520 64l20 20 M520 84l20 -20M525 64l20 20 M525 84l20 -20M547 64l20 20 M547 84l20 -20M568 64l20 20 M568 84l20 -20M572 64l20 20 M572 84l20 -20M606 64l20 20 M606 84l20 -20M639 64l20 20 M639 84l20 -20M644 64l20 20 M644 84l20 -20M649 64l20 20 M649 84l20 -20M672 64l20 20 M672 84l20 -20M676 64l20 20 M676 84l20 -20M696 64l20 20 M696 84l20 -20M720 64l20 20 M720 84l20 -20M724 64l20 20 M724 84l20 -20M730 64l20 20 M730 84l20 -20M736 64l20 20 M736 84l20 -20M744 64l20 20 M744 84l20 -20M748 64l20 20 M748 84l20 -20M758 64l20 20 M758 84l20 -20M783 64l20 20 M783 84l20 -20M821 64l20 20 M821 84l20 -20M825 64l20 20 M825 84l20 -20M829 64l20 20 M829 84l20 -20M835 64l20 20 M835 84l20 -20M840 64l20 20 M840 84l20 -20M855 64l20 20 M855 84l20 -20M869 64l20 20 M869 84l20 -20M891 64l20 20 M891 84l20 -20M895 64l20 20 M895 84l20 -20M901 64l20 20 M901 84l20 -20M910 64l20 20 M910 84l20 -20M915 64l20 20 M915 84l20 -20M926 64l20 20 M926 84l20 -20M930 64l20 20 M930 84l20 -20M939 64l20 20 M939 84l20 -20M956 64l20 20 M956 84l20 -20M960 64l20 20 M960 84l20 -20M965 64l20 20 M965 84l20 -20M987 64l20 20 M987 84l20 -20M992 64l20 20 M992 84l20 -20M1003 64l20 20 M1003 84l20 -20M1022 64l20 20 M1022 84l20 -20M1045 64l20 20 M1045 84l20 -20M1079 64l20 20 M1079 84l20 -20M1083 64l20 20 M1083 84l20 -20M1088 64l20 20 M1088 84l20 -20M1094 64l20 20 M1094 84l20 -20M1099 64l20 20 M1099 84l20 -20M1103 64l20 20 M1103 84l20 -20M1112 64l20 20 M1112 84l20 -20M1136 64l20 20 M1136 84l20 -20M1159 64l20 20 M1159 84l20 -20M1164 64l20 20 M1164 84l20 -20M1173 64l20 20 M1173 84l20 -20M1183 64l20 20 M1183 84l20 -20M1188 64l20 20 M1188 84l20 -20M1221 64l20 20 M1221 84l20 -20M1250 64l20 20 M1250 84l20 -20M1256 64l20 20 M1256 84l20 -20M1272 64l20 20 M1272 84l20 -20M1277 64l20 20 M1277 84l20 -20M1284 64l20 20 M1284 84l20 -20M1308 64l20 20 M1308 84l20 -20M1336 64l20 20 M1336 84l20 -20M1341 64l20 20 M1341 84l20 -20M1351 64l20 20 M1351 84l20 -20M1359 64l20 20 M1359 84l20 -20M1365 64l20 20 M1365 84l20 -20M1370 64l20 20 M1370 84l20 -20M1379 64l20 20 M1379 84l20 -20M1387 64l20 20 M1387 84l20 -20M1399 64l20 20 M1399 84l20 -20M1407 64l20 20 M1407 84l20 -20M1427 64l20 20 M1427 84l20 -20M1432 64l20 20 M1432 84l20 -20M1440 64l20 20 M1440 84l20 -20M1447 64l20 20 M1447 84l20 -20M1461 64l20 20 M1461 84l20 -20M1484 64l20 20 M1484 84l20 -20M1508 64l20 20 M1508 84l20 -20M1513 64l20 20 M1513 84l20 -20M1523 64l20 20 M1523 84l20 -20M1528 64l20 20 M1528 84l20 -20M1538 64l20 20 M1538 84l20 -20M1545 64l20 20 M1545 84l20 -20M1552 64l20 20 M1552 84l20 -20M1559 64l20 20 M1559 84l20 -20M1568 64l20 20 M1568 84l20 -20M1573 64l20 20 M1573 84l20 -20M1604 64l20 20 M1604 84l20 -20M1613 64l20 20 M1613 84l20 -20M1618 64l20 20 M1618 84l20 -20M1628 64l20 20 M1628 84l20 -20M1638 64l20 20 M1638 84l20 -20M1661 64l20 20 M1661 84l20 -20M1690 64l20 20 M1690 84l20 -20M1695 64l20 20 M1695 84l20 -20M1707 64l20 20 M1707 84l20 -20M1713 64l20 20 M1713 84l20 -20M1718 64l20 20 M1718 84l20 -20M1723 64l20 20 M1723 84l20 -20M1748 64l20 20 M1748 84l20 -20M1775 64l20 20 M1775 84l20 -20M1780 64l20 20 M1780 84l20 -20M1788 64l20 20 M1788 84l20 -20M1795 64l20 20 M1795 84l20 -20M1805 64l20 20 M1805 84l20 -20M1809 64l20 20 M1809 84l20 -20M1815 64l20 20 M1815 84l20 -20M1824 64l20 20 M1824 84l20 -20M1834 64l20 20 M1834 84l20 -20M1838 64l20 20 M1838 84l20 -20M1863 64l20 20 M1863 84l20 -20M1868 64l20 20 M1868 84l20 -20M1871 64l20 20 M1871 84l20 -20M1876 64l20 20 M1876 84l20 -20M1881 64l20 20 M1881 84l20 -20M1887 64l20 20 M1887 84l20 -20M1891 64l20 20 M1891 84l20 -20M1924 64l20 20 M1924 84l20 -20M1948 64l20 20 M1948 84l20 -20M1952 64l20 20 M1952 84l20 -20M1958 64l20 20 M1958 84l20 -20M1963 64l20 20 M1963 84l20 -20M1969 64l20 20 M1969 84l20 -20M1974 64l20 20 M1974 84l20 -20M1980 64l20 20 M1980 84l20 -20M1985 64l20 20 M1985 84l20 -20M1991 64l20 20 M1991 84l20 -20M2014 64l20 20 M2014 84l20 -20M2043 64l20 20 M2043 84l20 -20M2047 64l20 20 M2047 84l20 -20M2055 64l20 20 M2055 84l20 -20M2062 64l20 20 M2062 84l20 -20M2077 64l20 20 M2077 84l20 -20M2101 64l20 20 M2101 84l20 -20M2130 64l20 20 M2130 84l20 -20M2135 64l20 20 M2135 84l20 -20M2140 64l20 20 M2140 84l20 -20M2152 64l20 20 M2152 84l20 -20M2161 64l20 20 M2161 84l20 -20M2168 64l20 20 M2168 84l20 -20M2191 64l20 20 M2191 84l20 -20M2226 64l20 20 M2226 84l20 -20M2231 64l20 20 M2231 84l20 -20M2235 64l20 20 M2235 84l20 -20M2240 64l20 20 M2240 84l20 -20M2245 64l20 20 M2245 84l20 -20M2250 64l20 20 M2250 84l20 -20M2254 64l20 20 M2254 84l20 -20"/>
<path class="r" d="M190 236H2264"/>
<path class="r" stroke-width="2.6" d="M180.9 226.8l18.2 18.2 M180.9 245l18.2 -18.2M185.8 226.8l18.2 18.2 M185.8 245l18.2 -18.2M190.7 226.8l18.2 18.2 M190.7 245l18.2 -18.2M195.6 226.8l18.2 18.2 M195.6 245l18.2 -18.2M200.5 226.8l18.2 18.2 M200.5 245l18.2 -18.2M205.4 226.8l18.2 18.2 M205.4 245l18.2 -18.2M210.3 226.8l18.2 18.2 M210.3 245l18.2 -18.2M215.2 226.8l18.2 18.2 M215.2 245l18.2 -18.2M220.1 226.8l18.2 18.2 M220.1 245l18.2 -18.2M225 226.8l18.2 18.2 M225 245l18.2 -18.2M229.9 226.8l18.2 18.2 M229.9 245l18.2 -18.2M234.8 226.8l18.2 18.2 M234.8 245l18.2 -18.2M239.7 226.8l18.2 18.2 M239.7 245l18.2 -18.2M244.6 226.8l18.2 18.2 M244.6 245l18.2 -18.2M249.5 226.8l18.2 18.2 M249.5 245l18.2 -18.2M254.4 226.8l18.2 18.2 M254.4 245l18.2 -18.2M259.3 226.8l18.2 18.2 M259.3 245l18.2 -18.2M264.2 226.8l18.2 18.2 M264.2 245l18.2 -18.2M269.1 226.8l18.2 18.2 M269.1 245l18.2 -18.2M274 226.8l18.2 18.2 M274 245l18.2 -18.2M278.9 226.8l18.2 18.2 M278.9 245l18.2 -18.2M293.6 226.8l18.2 18.2 M293.6 245l18.2 -18.2M298.5 226.8l18.2 18.2 M298.5 245l18.2 -18.2M303.4 226.8l18.2 18.2 M303.4 245l18.2 -18.2M308.3 226.8l18.2 18.2 M308.3 245l18.2 -18.2M313.2 226.8l18.2 18.2 M313.2 245l18.2 -18.2M318.1 226.8l18.2 18.2 M318.1 245l18.2 -18.2M323 226.8l18.2 18.2 M323 245l18.2 -18.2M327.9 226.8l18.2 18.2 M327.9 245l18.2 -18.2M332.8 226.8l18.2 18.2 M332.8 245l18.2 -18.2M337.7 226.8l18.2 18.2 M337.7 245l18.2 -18.2M342.6 226.8l18.2 18.2 M342.6 245l18.2 -18.2M347.5 226.8l18.2 18.2 M347.5 245l18.2 -18.2M352.4 226.8l18.2 18.2 M352.4 245l18.2 -18.2M357.3 226.8l18.2 18.2 M357.3 245l18.2 -18.2M367.1 226.8l18.2 18.2 M367.1 245l18.2 -18.2M372 226.8l18.2 18.2 M372 245l18.2 -18.2M376.9 226.8l18.2 18.2 M376.9 245l18.2 -18.2M386.7 226.8l18.2 18.2 M386.7 245l18.2 -18.2M391.6 226.8l18.2 18.2 M391.6 245l18.2 -18.2M396.5 226.8l18.2 18.2 M396.5 245l18.2 -18.2M401.4 226.8l18.2 18.2 M401.4 245l18.2 -18.2M406.3 226.8l18.2 18.2 M406.3 245l18.2 -18.2M411.2 226.8l18.2 18.2 M411.2 245l18.2 -18.2M416.1 226.8l18.2 18.2 M416.1 245l18.2 -18.2M421 226.8l18.2 18.2 M421 245l18.2 -18.2M425.9 226.8l18.2 18.2 M425.9 245l18.2 -18.2M430.8 226.8l18.2 18.2 M430.8 245l18.2 -18.2M435.7 226.8l18.2 18.2 M435.7 245l18.2 -18.2M440.6 226.8l18.2 18.2 M440.6 245l18.2 -18.2M445.5 226.8l18.2 18.2 M445.5 245l18.2 -18.2M450.4 226.8l18.2 18.2 M450.4 245l18.2 -18.2M455.3 226.8l18.2 18.2 M455.3 245l18.2 -18.2M460.2 226.8l18.2 18.2 M460.2 245l18.2 -18.2M465.1 226.8l18.2 18.2 M465.1 245l18.2 -18.2M470 226.8l18.2 18.2 M470 245l18.2 -18.2M474.9 226.8l18.2 18.2 M474.9 245l18.2 -18.2M479.8 226.8l18.2 18.2 M479.8 245l18.2 -18.2M484.7 226.8l18.2 18.2 M484.7 245l18.2 -18.2M489.6 226.8l18.2 18.2 M489.6 245l18.2 -18.2M494.5 226.8l18.2 18.2 M494.5 245l18.2 -18.2M499.4 226.8l18.2 18.2 M499.4 245l18.2 -18.2M504.3 226.8l18.2 18.2 M504.3 245l18.2 -18.2M509.2 226.8l18.2 18.2 M509.2 245l18.2 -18.2M514.1 226.8l18.2 18.2 M514.1 245l18.2 -18.2M519 226.8l18.2 18.2 M519 245l18.2 -18.2M523.9 226.8l18.2 18.2 M523.9 245l18.2 -18.2M528.8 226.8l18.2 18.2 M528.8 245l18.2 -18.2M533.7 226.8l18.2 18.2 M533.7 245l18.2 -18.2M538.6 226.8l18.2 18.2 M538.6 245l18.2 -18.2M543.5 226.8l18.2 18.2 M543.5 245l18.2 -18.2M548.4 226.8l18.2 18.2 M548.4 245l18.2 -18.2M553.3 226.8l18.2 18.2 M553.3 245l18.2 -18.2M558.2 226.8l18.2 18.2 M558.2 245l18.2 -18.2M563.1 226.8l18.2 18.2 M563.1 245l18.2 -18.2M568 226.8l18.2 18.2 M568 245l18.2 -18.2M572.9 226.8l18.2 18.2 M572.9 245l18.2 -18.2M582.7 226.8l18.2 18.2 M582.7 245l18.2 -18.2M587.6 226.8l18.2 18.2 M587.6 245l18.2 -18.2M592.5 226.8l18.2 18.2 M592.5 245l18.2 -18.2M597.4 226.8l18.2 18.2 M597.4 245l18.2 -18.2M602.3 226.8l18.2 18.2 M602.3 245l18.2 -18.2M607.2 226.8l18.2 18.2 M607.2 245l18.2 -18.2M612.1 226.8l18.2 18.2 M612.1 245l18.2 -18.2M617 226.8l18.2 18.2 M617 245l18.2 -18.2M621.9 226.8l18.2 18.2 M621.9 245l18.2 -18.2M631.7 226.8l18.2 18.2 M631.7 245l18.2 -18.2M641.5 226.8l18.2 18.2 M641.5 245l18.2 -18.2M646.4 226.8l18.2 18.2 M646.4 245l18.2 -18.2M651.3 226.8l18.2 18.2 M651.3 245l18.2 -18.2M656.2 226.8l18.2 18.2 M656.2 245l18.2 -18.2M661.1 226.8l18.2 18.2 M661.1 245l18.2 -18.2M666 226.8l18.2 18.2 M666 245l18.2 -18.2M670.9 226.8l18.2 18.2 M670.9 245l18.2 -18.2M675.8 226.8l18.2 18.2 M675.8 245l18.2 -18.2M680.7 226.8l18.2 18.2 M680.7 245l18.2 -18.2M690.5 226.8l18.2 18.2 M690.5 245l18.2 -18.2M695.4 226.8l18.2 18.2 M695.4 245l18.2 -18.2M700.3 226.8l18.2 18.2 M700.3 245l18.2 -18.2M705.2 226.8l18.2 18.2 M705.2 245l18.2 -18.2M715 226.8l18.2 18.2 M715 245l18.2 -18.2M719.9 226.8l18.2 18.2 M719.9 245l18.2 -18.2M724.8 226.8l18.2 18.2 M724.8 245l18.2 -18.2M729.7 226.8l18.2 18.2 M729.7 245l18.2 -18.2M734.6 226.8l18.2 18.2 M734.6 245l18.2 -18.2M739.5 226.8l18.2 18.2 M739.5 245l18.2 -18.2M744.4 226.8l18.2 18.2 M744.4 245l18.2 -18.2M749.3 226.8l18.2 18.2 M749.3 245l18.2 -18.2M754.2 226.8l18.2 18.2 M754.2 245l18.2 -18.2M759.1 226.8l18.2 18.2 M759.1 245l18.2 -18.2M764 226.8l18.2 18.2 M764 245l18.2 -18.2M768.9 226.8l18.2 18.2 M768.9 245l18.2 -18.2M773.8 226.8l18.2 18.2 M773.8 245l18.2 -18.2M778.7 226.8l18.2 18.2 M778.7 245l18.2 -18.2M783.6 226.8l18.2 18.2 M783.6 245l18.2 -18.2M788.5 226.8l18.2 18.2 M788.5 245l18.2 -18.2M793.4 226.8l18.2 18.2 M793.4 245l18.2 -18.2M798.3 226.8l18.2 18.2 M798.3 245l18.2 -18.2M803.2 226.8l18.2 18.2 M803.2 245l18.2 -18.2M808.1 226.8l18.2 18.2 M808.1 245l18.2 -18.2M817.9 226.8l18.2 18.2 M817.9 245l18.2 -18.2M822.8 226.8l18.2 18.2 M822.8 245l18.2 -18.2M832.6 226.8l18.2 18.2 M832.6 245l18.2 -18.2M837.5 226.8l18.2 18.2 M837.5 245l18.2 -18.2M847.3 226.8l18.2 18.2 M847.3 245l18.2 -18.2M852.2 226.8l18.2 18.2 M852.2 245l18.2 -18.2M857.1 226.8l18.2 18.2 M857.1 245l18.2 -18.2M862 226.8l18.2 18.2 M862 245l18.2 -18.2M866.9 226.8l18.2 18.2 M866.9 245l18.2 -18.2M871.8 226.8l18.2 18.2 M871.8 245l18.2 -18.2M886.5 226.8l18.2 18.2 M886.5 245l18.2 -18.2M891.4 226.8l18.2 18.2 M891.4 245l18.2 -18.2M896.3 226.8l18.2 18.2 M896.3 245l18.2 -18.2M901.2 226.8l18.2 18.2 M901.2 245l18.2 -18.2M906.1 226.8l18.2 18.2 M906.1 245l18.2 -18.2M911 226.8l18.2 18.2 M911 245l18.2 -18.2M915.9 226.8l18.2 18.2 M915.9 245l18.2 -18.2M920.8 226.8l18.2 18.2 M920.8 245l18.2 -18.2M925.7 226.8l18.2 18.2 M925.7 245l18.2 -18.2M930.6 226.8l18.2 18.2 M930.6 245l18.2 -18.2M935.5 226.8l18.2 18.2 M935.5 245l18.2 -18.2M940.4 226.8l18.2 18.2 M940.4 245l18.2 -18.2M945.3 226.8l18.2 18.2 M945.3 245l18.2 -18.2M955.1 226.8l18.2 18.2 M955.1 245l18.2 -18.2M960 226.8l18.2 18.2 M960 245l18.2 -18.2M964.9 226.8l18.2 18.2 M964.9 245l18.2 -18.2M969.8 226.8l18.2 18.2 M969.8 245l18.2 -18.2M974.7 226.8l18.2 18.2 M974.7 245l18.2 -18.2M979.6 226.8l18.2 18.2 M979.6 245l18.2 -18.2M984.5 226.8l18.2 18.2 M984.5 245l18.2 -18.2M989.4 226.8l18.2 18.2 M989.4 245l18.2 -18.2M994.3 226.8l18.2 18.2 M994.3 245l18.2 -18.2M999.2 226.8l18.2 18.2 M999.2 245l18.2 -18.2M1004.1 226.8l18.2 18.2 M1004.1 245l18.2 -18.2M1009 226.8l18.2 18.2 M1009 245l18.2 -18.2M1013.9 226.8l18.2 18.2 M1013.9 245l18.2 -18.2M1018.8 226.8l18.2 18.2 M1018.8 245l18.2 -18.2M1023.7 226.8l18.2 18.2 M1023.7 245l18.2 -18.2M1028.6 226.8l18.2 18.2 M1028.6 245l18.2 -18.2M1033.5 226.8l18.2 18.2 M1033.5 245l18.2 -18.2M1038.4 226.8l18.2 18.2 M1038.4 245l18.2 -18.2M1043.3 226.8l18.2 18.2 M1043.3 245l18.2 -18.2M1048.2 226.8l18.2 18.2 M1048.2 245l18.2 -18.2M1053.1 226.8l18.2 18.2 M1053.1 245l18.2 -18.2M1058 226.8l18.2 18.2 M1058 245l18.2 -18.2M1062.9 226.8l18.2 18.2 M1062.9 245l18.2 -18.2M1067.8 226.8l18.2 18.2 M1067.8 245l18.2 -18.2M1072.7 226.8l18.2 18.2 M1072.7 245l18.2 -18.2M1077.6 226.8l18.2 18.2 M1077.6 245l18.2 -18.2M1082.5 226.8l18.2 18.2 M1082.5 245l18.2 -18.2M1087.4 226.8l18.2 18.2 M1087.4 245l18.2 -18.2M1092.3 226.8l18.2 18.2 M1092.3 245l18.2 -18.2M1097.2 226.8l18.2 18.2 M1097.2 245l18.2 -18.2M1102.1 226.8l18.2 18.2 M1102.1 245l18.2 -18.2M1107 226.8l18.2 18.2 M1107 245l18.2 -18.2M1111.9 226.8l18.2 18.2 M1111.9 245l18.2 -18.2M1116.8 226.8l18.2 18.2 M1116.8 245l18.2 -18.2M1121.7 226.8l18.2 18.2 M1121.7 245l18.2 -18.2M1126.6 226.8l18.2 18.2 M1126.6 245l18.2 -18.2M1131.5 226.8l18.2 18.2 M1131.5 245l18.2 -18.2M1136.4 226.8l18.2 18.2 M1136.4 245l18.2 -18.2M1141.3 226.8l18.2 18.2 M1141.3 245l18.2 -18.2M1146.2 226.8l18.2 18.2 M1146.2 245l18.2 -18.2M1151.1 226.8l18.2 18.2 M1151.1 245l18.2 -18.2M1156 226.8l18.2 18.2 M1156 245l18.2 -18.2M1165.8 226.8l18.2 18.2 M1165.8 245l18.2 -18.2M1170.7 226.8l18.2 18.2 M1170.7 245l18.2 -18.2M1175.6 226.8l18.2 18.2 M1175.6 245l18.2 -18.2M1180.5 226.8l18.2 18.2 M1180.5 245l18.2 -18.2M1185.4 226.8l18.2 18.2 M1185.4 245l18.2 -18.2M1190.3 226.8l18.2 18.2 M1190.3 245l18.2 -18.2M1195.2 226.8l18.2 18.2 M1195.2 245l18.2 -18.2M1200.1 226.8l18.2 18.2 M1200.1 245l18.2 -18.2M1205 226.8l18.2 18.2 M1205 245l18.2 -18.2M1209.9 226.8l18.2 18.2 M1209.9 245l18.2 -18.2M1214.8 226.8l18.2 18.2 M1214.8 245l18.2 -18.2M1219.7 226.8l18.2 18.2 M1219.7 245l18.2 -18.2M1224.6 226.8l18.2 18.2 M1224.6 245l18.2 -18.2M1229.5 226.8l18.2 18.2 M1229.5 245l18.2 -18.2M1239.3 226.8l18.2 18.2 M1239.3 245l18.2 -18.2M1244.2 226.8l18.2 18.2 M1244.2 245l18.2 -18.2M1249.1 226.8l18.2 18.2 M1249.1 245l18.2 -18.2M1258.9 226.8l18.2 18.2 M1258.9 245l18.2 -18.2M1263.8 226.8l18.2 18.2 M1263.8 245l18.2 -18.2M1268.7 226.8l18.2 18.2 M1268.7 245l18.2 -18.2M1273.6 226.8l18.2 18.2 M1273.6 245l18.2 -18.2M1278.5 226.8l18.2 18.2 M1278.5 245l18.2 -18.2M1283.4 226.8l18.2 18.2 M1283.4 245l18.2 -18.2M1293.2 226.8l18.2 18.2 M1293.2 245l18.2 -18.2M1298.1 226.8l18.2 18.2 M1298.1 245l18.2 -18.2M1303 226.8l18.2 18.2 M1303 245l18.2 -18.2M1307.9 226.8l18.2 18.2 M1307.9 245l18.2 -18.2M1312.8 226.8l18.2 18.2 M1312.8 245l18.2 -18.2M1317.7 226.8l18.2 18.2 M1317.7 245l18.2 -18.2M1322.6 226.8l18.2 18.2 M1322.6 245l18.2 -18.2M1327.5 226.8l18.2 18.2 M1327.5 245l18.2 -18.2M1332.4 226.8l18.2 18.2 M1332.4 245l18.2 -18.2M1337.3 226.8l18.2 18.2 M1337.3 245l18.2 -18.2M1342.2 226.8l18.2 18.2 M1342.2 245l18.2 -18.2M1347.1 226.8l18.2 18.2 M1347.1 245l18.2 -18.2M1352 226.8l18.2 18.2 M1352 245l18.2 -18.2M1356.9 226.8l18.2 18.2 M1356.9 245l18.2 -18.2M1361.8 226.8l18.2 18.2 M1361.8 245l18.2 -18.2M1366.7 226.8l18.2 18.2 M1366.7 245l18.2 -18.2M1371.6 226.8l18.2 18.2 M1371.6 245l18.2 -18.2M1376.5 226.8l18.2 18.2 M1376.5 245l18.2 -18.2M1381.4 226.8l18.2 18.2 M1381.4 245l18.2 -18.2M1386.3 226.8l18.2 18.2 M1386.3 245l18.2 -18.2M1391.2 226.8l18.2 18.2 M1391.2 245l18.2 -18.2M1396.1 226.8l18.2 18.2 M1396.1 245l18.2 -18.2M1405.9 226.8l18.2 18.2 M1405.9 245l18.2 -18.2M1410.8 226.8l18.2 18.2 M1410.8 245l18.2 -18.2M1420.6 226.8l18.2 18.2 M1420.6 245l18.2 -18.2M1425.5 226.8l18.2 18.2 M1425.5 245l18.2 -18.2M1430.4 226.8l18.2 18.2 M1430.4 245l18.2 -18.2M1435.3 226.8l18.2 18.2 M1435.3 245l18.2 -18.2M1440.2 226.8l18.2 18.2 M1440.2 245l18.2 -18.2M1445.1 226.8l18.2 18.2 M1445.1 245l18.2 -18.2M1459.8 226.8l18.2 18.2 M1459.8 245l18.2 -18.2M1464.7 226.8l18.2 18.2 M1464.7 245l18.2 -18.2M1474.5 226.8l18.2 18.2 M1474.5 245l18.2 -18.2M1479.4 226.8l18.2 18.2 M1479.4 245l18.2 -18.2M1484.3 226.8l18.2 18.2 M1484.3 245l18.2 -18.2M1489.2 226.8l18.2 18.2 M1489.2 245l18.2 -18.2M1494.1 226.8l18.2 18.2 M1494.1 245l18.2 -18.2M1499 226.8l18.2 18.2 M1499 245l18.2 -18.2M1503.9 226.8l18.2 18.2 M1503.9 245l18.2 -18.2M1508.8 226.8l18.2 18.2 M1508.8 245l18.2 -18.2M1513.7 226.8l18.2 18.2 M1513.7 245l18.2 -18.2M1518.6 226.8l18.2 18.2 M1518.6 245l18.2 -18.2M1523.5 226.8l18.2 18.2 M1523.5 245l18.2 -18.2M1528.4 226.8l18.2 18.2 M1528.4 245l18.2 -18.2M1533.3 226.8l18.2 18.2 M1533.3 245l18.2 -18.2M1538.2 226.8l18.2 18.2 M1538.2 245l18.2 -18.2M1543.1 226.8l18.2 18.2 M1543.1 245l18.2 -18.2M1548 226.8l18.2 18.2 M1548 245l18.2 -18.2M1552.9 226.8l18.2 18.2 M1552.9 245l18.2 -18.2M1557.8 226.8l18.2 18.2 M1557.8 245l18.2 -18.2M1562.7 226.8l18.2 18.2 M1562.7 245l18.2 -18.2M1567.6 226.8l18.2 18.2 M1567.6 245l18.2 -18.2M1572.5 226.8l18.2 18.2 M1572.5 245l18.2 -18.2M1577.4 226.8l18.2 18.2 M1577.4 245l18.2 -18.2M1582.3 226.8l18.2 18.2 M1582.3 245l18.2 -18.2M1587.2 226.8l18.2 18.2 M1587.2 245l18.2 -18.2M1592.1 226.8l18.2 18.2 M1592.1 245l18.2 -18.2M1597 226.8l18.2 18.2 M1597 245l18.2 -18.2M1601.9 226.8l18.2 18.2 M1601.9 245l18.2 -18.2M1606.8 226.8l18.2 18.2 M1606.8 245l18.2 -18.2M1611.7 226.8l18.2 18.2 M1611.7 245l18.2 -18.2M1616.6 226.8l18.2 18.2 M1616.6 245l18.2 -18.2M1621.5 226.8l18.2 18.2 M1621.5 245l18.2 -18.2M1626.4 226.8l18.2 18.2 M1626.4 245l18.2 -18.2M1631.3 226.8l18.2 18.2 M1631.3 245l18.2 -18.2M1636.2 226.8l18.2 18.2 M1636.2 245l18.2 -18.2M1641.1 226.8l18.2 18.2 M1641.1 245l18.2 -18.2M1646 226.8l18.2 18.2 M1646 245l18.2 -18.2M1650.9 226.8l18.2 18.2 M1650.9 245l18.2 -18.2M1655.8 226.8l18.2 18.2 M1655.8 245l18.2 -18.2M1660.7 226.8l18.2 18.2 M1660.7 245l18.2 -18.2M1665.6 226.8l18.2 18.2 M1665.6 245l18.2 -18.2M1670.5 226.8l18.2 18.2 M1670.5 245l18.2 -18.2M1675.4 226.8l18.2 18.2 M1675.4 245l18.2 -18.2M1680.3 226.8l18.2 18.2 M1680.3 245l18.2 -18.2M1685.2 226.8l18.2 18.2 M1685.2 245l18.2 -18.2M1690.1 226.8l18.2 18.2 M1690.1 245l18.2 -18.2M1695 226.8l18.2 18.2 M1695 245l18.2 -18.2M1699.9 226.8l18.2 18.2 M1699.9 245l18.2 -18.2M1704.8 226.8l18.2 18.2 M1704.8 245l18.2 -18.2M1709.7 226.8l18.2 18.2 M1709.7 245l18.2 -18.2M1714.6 226.8l18.2 18.2 M1714.6 245l18.2 -18.2M1719.5 226.8l18.2 18.2 M1719.5 245l18.2 -18.2M1724.4 226.8l18.2 18.2 M1724.4 245l18.2 -18.2M1729.3 226.8l18.2 18.2 M1729.3 245l18.2 -18.2M1734.2 226.8l18.2 18.2 M1734.2 245l18.2 -18.2M1744 226.8l18.2 18.2 M1744 245l18.2 -18.2M1748.9 226.8l18.2 18.2 M1748.9 245l18.2 -18.2M1758.7 226.8l18.2 18.2 M1758.7 245l18.2 -18.2M1763.6 226.8l18.2 18.2 M1763.6 245l18.2 -18.2M1768.5 226.8l18.2 18.2 M1768.5 245l18.2 -18.2M1773.4 226.8l18.2 18.2 M1773.4 245l18.2 -18.2M1783.2 226.8l18.2 18.2 M1783.2 245l18.2 -18.2M1788.1 226.8l18.2 18.2 M1788.1 245l18.2 -18.2M1793 226.8l18.2 18.2 M1793 245l18.2 -18.2M1797.9 226.8l18.2 18.2 M1797.9 245l18.2 -18.2M1802.8 226.8l18.2 18.2 M1802.8 245l18.2 -18.2M1807.7 226.8l18.2 18.2 M1807.7 245l18.2 -18.2M1812.6 226.8l18.2 18.2 M1812.6 245l18.2 -18.2M1817.5 226.8l18.2 18.2 M1817.5 245l18.2 -18.2M1827.3 226.8l18.2 18.2 M1827.3 245l18.2 -18.2M1832.2 226.8l18.2 18.2 M1832.2 245l18.2 -18.2M1837.1 226.8l18.2 18.2 M1837.1 245l18.2 -18.2M1842 226.8l18.2 18.2 M1842 245l18.2 -18.2M1846.9 226.8l18.2 18.2 M1846.9 245l18.2 -18.2M1851.8 226.8l18.2 18.2 M1851.8 245l18.2 -18.2M1861.6 226.8l18.2 18.2 M1861.6 245l18.2 -18.2M1866.5 226.8l18.2 18.2 M1866.5 245l18.2 -18.2M1871.4 226.8l18.2 18.2 M1871.4 245l18.2 -18.2M1876.3 226.8l18.2 18.2 M1876.3 245l18.2 -18.2M1881.2 226.8l18.2 18.2 M1881.2 245l18.2 -18.2M1886.1 226.8l18.2 18.2 M1886.1 245l18.2 -18.2M1891 226.8l18.2 18.2 M1891 245l18.2 -18.2M1895.9 226.8l18.2 18.2 M1895.9 245l18.2 -18.2M1900.8 226.8l18.2 18.2 M1900.8 245l18.2 -18.2M1905.7 226.8l18.2 18.2 M1905.7 245l18.2 -18.2M1910.6 226.8l18.2 18.2 M1910.6 245l18.2 -18.2M1915.5 226.8l18.2 18.2 M1915.5 245l18.2 -18.2M1920.4 226.8l18.2 18.2 M1920.4 245l18.2 -18.2M1925.3 226.8l18.2 18.2 M1925.3 245l18.2 -18.2M1930.2 226.8l18.2 18.2 M1930.2 245l18.2 -18.2M1935.1 226.8l18.2 18.2 M1935.1 245l18.2 -18.2M1940 226.8l18.2 18.2 M1940 245l18.2 -18.2M1944.9 226.8l18.2 18.2 M1944.9 245l18.2 -18.2M1949.8 226.8l18.2 18.2 M1949.8 245l18.2 -18.2M1954.7 226.8l18.2 18.2 M1954.7 245l18.2 -18.2M1959.6 226.8l18.2 18.2 M1959.6 245l18.2 -18.2M1964.5 226.8l18.2 18.2 M1964.5 245l18.2 -18.2M1969.4 226.8l18.2 18.2 M1969.4 245l18.2 -18.2M1974.3 226.8l18.2 18.2 M1974.3 245l18.2 -18.2M1979.2 226.8l18.2 18.2 M1979.2 245l18.2 -18.2M1984.1 226.8l18.2 18.2 M1984.1 245l18.2 -18.2M1989 226.8l18.2 18.2 M1989 245l18.2 -18.2M1993.9 226.8l18.2 18.2 M1993.9 245l18.2 -18.2M1998.8 226.8l18.2 18.2 M1998.8 245l18.2 -18.2M2003.7 226.8l18.2 18.2 M2003.7 245l18.2 -18.2M2008.6 226.8l18.2 18.2 M2008.6 245l18.2 -18.2M2013.5 226.8l18.2 18.2 M2013.5 245l18.2 -18.2M2018.4 226.8l18.2 18.2 M2018.4 245l18.2 -18.2M2023.3 226.8l18.2 18.2 M2023.3 245l18.2 -18.2M2028.2 226.8l18.2 18.2 M2028.2 245l18.2 -18.2M2033.1 226.8l18.2 18.2 M2033.1 245l18.2 -18.2M2038 226.8l18.2 18.2 M2038 245l18.2 -18.2M2042.9 226.8l18.2 18.2 M2042.9 245l18.2 -18.2M2047.8 226.8l18.2 18.2 M2047.8 245l18.2 -18.2M2052.7 226.8l18.2 18.2 M2052.7 245l18.2 -18.2M2057.6 226.8l18.2 18.2 M2057.6 245l18.2 -18.2M2062.5 226.8l18.2 18.2 M2062.5 245l18.2 -18.2M2067.4 226.8l18.2 18.2 M2067.4 245l18.2 -18.2M2072.3 226.8l18.2 18.2 M2072.3 245l18.2 -18.2M2077.2 226.8l18.2 18.2 M2077.2 245l18.2 -18.2M2082.1 226.8l18.2 18.2 M2082.1 245l18.2 -18.2M2087 226.8l18.2 18.2 M2087 245l18.2 -18.2M2091.9 226.8l18.2 18.2 M2091.9 245l18.2 -18.2M2101.7 226.8l18.2 18.2 M2101.7 245l18.2 -18.2M2106.6 226.8l18.2 18.2 M2106.6 245l18.2 -18.2M2111.5 226.8l18.2 18.2 M2111.5 245l18.2 -18.2M2116.4 226.8l18.2 18.2 M2116.4 245l18.2 -18.2M2121.3 226.8l18.2 18.2 M2121.3 245l18.2 -18.2M2126.2 226.8l18.2 18.2 M2126.2 245l18.2 -18.2M2131.1 226.8l18.2 18.2 M2131.1 245l18.2 -18.2M2136 226.8l18.2 18.2 M2136 245l18.2 -18.2M2140.9 226.8l18.2 18.2 M2140.9 245l18.2 -18.2M2145.8 226.8l18.2 18.2 M2145.8 245l18.2 -18.2M2150.7 226.8l18.2 18.2 M2150.7 245l18.2 -18.2M2155.6 226.8l18.2 18.2 M2155.6 245l18.2 -18.2M2160.5 226.8l18.2 18.2 M2160.5 245l18.2 -18.2M2165.4 226.8l18.2 18.2 M2165.4 245l18.2 -18.2M2170.3 226.8l18.2 18.2 M2170.3 245l18.2 -18.2M2175.2 226.8l18.2 18.2 M2175.2 245l18.2 -18.2M2180.1 226.8l18.2 18.2 M2180.1 245l18.2 -18.2M2185 226.8l18.2 18.2 M2185 245l18.2 -18.2M2189.9 226.8l18.2 18.2 M2189.9 245l18.2 -18.2M2194.8 226.8l18.2 18.2 M2194.8 245l18.2 -18.2M2199.7 226.8l18.2 18.2 M2199.7 245l18.2 -18.2M2204.6 226.8l18.2 18.2 M2204.6 245l18.2 -18.2M2209.5 226.8l18.2 18.2 M2209.5 245l18.2 -18.2M2214.4 226.8l18.2 18.2 M2214.4 245l18.2 -18.2M2219.3 226.8l18.2 18.2 M2219.3 245l18.2 -18.2M2224.2 226.8l18.2 18.2 M2224.2 245l18.2 -18.2M2229.1 226.8l18.2 18.2 M2229.1 245l18.2 -18.2M2234 226.8l18.2 18.2 M2234 245l18.2 -18.2M2238.9 226.8l18.2 18.2 M2238.9 245l18.2 -18.2M2243.8 226.8l18.2 18.2 M2243.8 245l18.2 -18.2M2248.7 226.8l18.2 18.2 M2248.7 245l18.2 -18.2M2253.6 226.8l18.2 18.2 M2253.6 245l18.2 -18.2"/>
</g>
<rect x="855" y="341" width="1380" height="554" fill="#fff" stroke="#000" stroke-width="2"/>
<g stroke-width="2">
<path class="b" d="M892 393H988M988 394H1084"/>
<path class="b" d="M988 374v39M978 384l20 20 M978 404l20 -20"/>
<path class="r" d="M892 484H988M988 485H1084"/>
<path class="r" d="M988 465v39M978 475l20 20 M978 495l20 -20"/>
<path class="b" d="M892 570H988M988 570H1084"/>
<circle cx="988" cy="570" r="10" fill="#0000ff"/>
<path class="r" d="M892 661H988M988 661H1084"/>
<circle cx="988" cy="660" r="10" fill="#ff0000"/>
<path class="b" d="M892 747H988M988 747H1084"/>
<path class="b" d="M978 737l20 20 M978 757l20 -20"/>
<path class="r" d="M892 837H988M988 837H1084"/>
<path class="r" d="M978 828l20 20"/>
</g>
<g class="l">
<text x="1103.9" y="413.1">λ=0.4, the evolution of vaccine enterprise</text>
<text x="1103.9" y="503">λ=0.4, the evolution of government</text>
<text x="1103.9" y="593.8">λ=0.5, the evolution of vaccine enterprise</text>
<text x="1103.9" y="680">λ=0.5, the evolution of government</text>
<text x="1103.9" y="770.6">λ=0.8, the evolution of vaccine enterprise</text>
<text x="1103.9" y="865.7">λ=0.8, the evolution of government</text>
</g>
</svg></body></html>
